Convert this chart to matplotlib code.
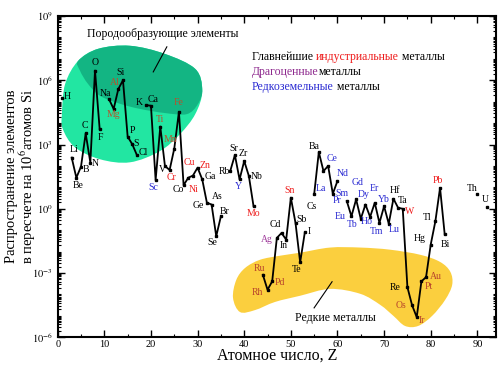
import numpy as np
import pandas as pd
import matplotlib
matplotlib.use("Agg")
import matplotlib.pyplot as plt
import matplotlib.transforms as mtransforms
from matplotlib.path import Path
from matplotlib.patches import PathPatch
from matplotlib.ticker import FixedLocator, LogLocator, MultipleLocator, NullFormatter

plt.rcParams['font.family'] = ['Liberation Serif', 'DejaVu Serif']
plt.rcParams['mathtext.fontset'] = 'stix'

# atomic number, symbol, log10(atoms per 10^6 Si)
z_num = [1, 3, 4, 5, 6, 7, 8, 9, 11, 12, 13, 14, 15, 16, 17, 19, 20, 21, 22, 23,
         24, 25, 26, 27, 28, 29, 30, 31, 32, 33, 34, 35, 37, 38, 39, 40, 41, 42,
         44, 45, 46, 47, 48, 49, 50, 51, 52, 53, 55, 56, 57, 58, 59, 60, 62, 63,
         64, 65, 66, 67, 68, 69, 70, 71, 72, 73, 74, 75, 76, 77, 78, 79, 80, 81,
         82, 83, 90, 92]
symbols = ['H', 'Li', 'Be', 'B', 'C', 'N', 'O', 'F', 'Na', 'Mg', 'Al', 'Si', 'P',
           'S', 'Cl', 'K', 'Ca', 'Sc', 'Ti', 'V', 'Cr', 'Mn', 'Fe', 'Co', 'Ni',
           'Cu', 'Zn', 'Ga', 'Ge', 'As', 'Se', 'Br', 'Rb', 'Sr', 'Y', 'Zr', 'Nb',
           'Mo', 'Ru', 'Rh', 'Pd', 'Ag', 'Cd', 'In', 'Sn', 'Sb', 'Te', 'I', 'Cs',
           'Ba', 'La', 'Ce', 'Pr', 'Nd', 'Sm', 'Eu', 'Gd', 'Tb', 'Dy', 'Ho', 'Er',
           'Tm', 'Yb', 'Lu', 'Hf', 'Ta', 'W', 'Re', 'Os', 'Ir', 'Pt', 'Au', 'Hg',
           'Tl', 'Pb', 'Bi', 'Th', 'U']
log_abund = [5.16, 2.39, 1.45, 1.97, 3.52, 2.16, 6.45, 3.72, 5.12, 4.66, 5.59, 6.0,
             3.37, 3.01, 2.50, 4.84, 4.81, 1.34, 3.84, 2.0, 1.81, 2.81, 4.53, 1.10,
             1.45, 1.55, 1.92, 1.37, 0.28, 0.20, -1.28, -0.35, 1.76, 2.51, 1.37,
             2.23, 1.53, 0.12, -3.08, -3.78, -3.39, -1.36, -1.13, -1.44, 0.52,
             -0.66, -2.5, -1.1, 0.67, 2.65, 1.76, 2.0, 0.70, 1.3, 0.36, -0.35, 0.44,
             -0.47, 0.2, -0.38, 0.28, -0.66, 0.12, -0.7, 0.47, 0.05, 0.0, -3.66,
             -4.5, -5.06, -3.39, -3.19, -1.67, -0.58, 0.98, -1.2, 0.67, 0.09]

industrial = ['Cr', 'Ni', 'Cu', 'Zn', 'Mo', 'Sn', 'W', 'Pb']
industrial_dim = ['Al', 'Mg', 'Ti', 'Mn', 'Fe']
precious = ['Ag']
precious_dim = ['Ru', 'Rh', 'Pd', 'Os', 'Ir', 'Pt', 'Au']
rare_earth = ['Sc', 'Y', 'La', 'Ce', 'Pr', 'Nd', 'Sm', 'Eu', 'Gd', 'Tb', 'Dy',
              'Ho', 'Er', 'Tm', 'Yb', 'Lu']

# label offsets in pixels (dx, dy up)
offsets = {
    'H': (5, 2), 'Li': (2, 8), 'Be': (2, -8), 'B': (5, -3), 'C': (-1, 8),
    'N': (5, -1), 'O': (0, 8), 'F': (1, -8), 'Na': (-4, 6), 'Al': (-3, 7),
    'Mg': (0, -6), 'Si': (-2, 8), 'P': (5, 6), 'S': (4, 1), 'Cl': (6, 3),
    'K': (-7, 3), 'Ca': (2, 6), 'Sc': (-2, -7), 'Ti': (0, 7), 'V': (-3, -4),
    'Cr': (2, -7), 'Mn': (-4, 9), 'Fe': (0, 9), 'Co': (-5, -4), 'Ni': (5, -12),
    'Cu': (-4, 13), 'Zn': (7, 2), 'Ga': (8, 3), 'Ge': (-9, -3), 'As': (6, 8),
    'Se': (-4, -6), 'Br': (4, 5), 'Rb': (-6, 0), 'Sr': (-1, 7), 'Y': (-1, -7),
    'Zr': (-1, 8), 'Nb': (8, 0), 'Mo': (0, -7), 'Ru': (-3, 6), 'Rh': (-10, -3),
    'Pd': (8, -1), 'Ag': (-10, -2), 'Cd': (-6, 8), 'In': (-2, -6), 'Sn': (-1, 7),
    'Sb': (6, 3), 'Te': (-4, -7), 'I': (4, 1), 'Cs': (-2, -12), 'Ba': (-5, 6),
    'La': (-3, -17), 'Ce': (4, 7), 'Pr': (4, -7), 'Nd': (5, 7), 'Sm': (-5, 8),
    'Eu': (-11, 0), 'Gd': (1, 17), 'Tb': (-9, -6), 'Dy': (-2, 10), 'Ho': (-3, -5),
    'Er': (0, 14), 'Tm': (-3, -9), 'Yb': (0, 7), 'Lu': (5, -6), 'Hf': (2, 8),
    'Ta': (5, 7), 'W': (7, -3), 'Re': (-12, 0), 'Os': (-11, 0), 'Ir': (5, -3),
    'Pt': (7, -5), 'Au': (10, 1), 'Hg': (-11, 6), 'Tl': (-8, 4), 'Pb': (-2, 7),
    'Bi': (1, -10), 'Th': (-5, 6), 'U': (-1, 7),
}

# outline of the rock-forming region (Z, log10 abundance)
rock_z = [0.9, 1.6, 4.4, 8.7, 15.5, 23.0, 29.5, 31.0, 29.5, 26.2, 21.9, 15.5, 9.1, 3.7, 1.1]
rock_l = [4.42, 5.83, 6.91, 7.47, 7.61, 7.23, 6.53, 5.50, 4.42, 3.48, 2.69, 2.17, 2.31, 2.87, 3.72]
cap_z = [4.4, 8.7, 15.5, 23.0, 29.5, 31.0, 30.1, 27.7, 23.0, 17.7, 13.4, 9.1, 6.5, 4.8]
cap_l = [6.91, 7.47, 7.61, 7.23, 6.53, 5.59, 4.90, 4.42, 4.47, 4.66, 4.90, 5.27, 5.83, 6.44]
rare_z = [37.6, 38.3, 40.2, 43.4, 47.7, 52.0, 58.4, 64.9, 71.3, 77.8, 82.0, 84.2, 84.6,
          83.1, 80.3, 77.3, 74.5, 72.0, 69.2, 64.9, 58.4, 52.0, 46.6, 42.3, 39.1]
rare_l = [-4.16, -3.32, -2.76, -2.38, -2.19, -2.05, -1.81, -1.81, -1.91, -2.15, -2.48,
          -2.94, -3.55, -4.25, -5.00, -5.47, -5.47, -5.00, -4.49, -3.97, -3.74, -4.06,
          -4.35, -4.73, -4.82]


def blob_path(xs, ys):
    p = np.column_stack([xs, ys])
    n = len(p)
    verts = [p[0]]
    codes = [Path.MOVETO]
    for i in range(n):
        p0, p1, p2, p3 = p[i - 1], p[i], p[(i + 1) % n], p[(i + 2) % n]
        verts += [p1 + (p2 - p0) / 6, p2 - (p3 - p1) / 6, p2]
        codes += [Path.CURVE4] * 3
    return Path(verts, codes)


df = pd.DataFrame({'sym': symbols, 'val': 10.0 ** np.array(log_abund)}, index=z_num)
full = df.reindex(range(1, 93))

fig = plt.figure(figsize=(5, 3.67), dpi=100)
ax = fig.add_axes([0.1154, 0.0809, 0.8766, 0.8755])
ax.set_xlim(0, 94)
ax.set_yscale('log')
ax.set_ylim(1e-6, 1e9)

blob_tr = mtransforms.Affine2D().scale(1 / 94, 1 / 15).translate(0, 0.4) + ax.transAxes
ax.add_patch(PathPatch(blob_path(rock_z, rock_l), facecolor='#22e6a2', edgecolor='none',
                       transform=blob_tr, zorder=0))
ax.add_patch(PathPatch(blob_path(cap_z, cap_l), facecolor='#13b583', edgecolor='none',
                       transform=blob_tr, zorder=0.5))
ax.add_patch(PathPatch(blob_path(rare_z, rare_l), facecolor='#fbcf3e', edgecolor='none',
                       transform=blob_tr, zorder=0))

ax.plot(full.index, full['val'], color='black', lw=1.3, marker='s', ms=1.6, zorder=2)

for z, s, v in zip(z_num, symbols, df['val']):
    if s in industrial:
        c = '#ee1c1c'
    elif s in industrial_dim:
        c = '#b4522e'
    elif s in precious:
        c = '#a03c9c'
    elif s in precious_dim:
        c = '#b8442c'
    elif s in rare_earth:
        c = '#2a2ad2'
    else:
        c = 'black'
    ax.annotate(s, (z, v), xytext=offsets[s], textcoords='offset pixels',
                ha='center', va='center', fontsize=7, color=c, zorder=3)

ax.xaxis.set_major_locator(MultipleLocator(10))
ax.xaxis.set_minor_locator(MultipleLocator(5))
ax.yaxis.set_major_locator(FixedLocator([1e-6, 1e-3, 1e0, 1e3, 1e6, 1e9]))
ax.set_yticklabels(['$10^{-6}$', '$10^{-3}$', '$10^{0}$', '$10^{3}$', '$10^{6}$', '$10^{9}$'])
ax.yaxis.set_minor_locator(LogLocator(base=10, subs=np.arange(1, 10), numticks=100))
ax.yaxis.set_minor_formatter(NullFormatter())
ax.tick_params(which='both', direction='in', top=True, right=True, labelsize=7.5)
ax.tick_params(which='major', length=5, width=1)
ax.tick_params(which='minor', length=2.5, width=0.8)
ax.tick_params(axis='x', pad=2)
for sp in ax.spines.values():
    sp.set_linewidth(1.5)

fig.text(0.554, 0.008, 'Атомное число, Z', ha='center', va='bottom', fontsize=11.5)
fig.text(0.024, 0.52, 'Распространение элементов', rotation=90, ha='center',
         va='center', fontsize=10.5)
fig.text(0.056, 0.52, 'в пересчете на 10$^6$атомов Si', rotation=90, ha='center',
         va='center', fontsize=10.5)

ax.text(0.240, 0.945, 'Породообразующие элементы', transform=ax.transAxes,
        ha='center', va='center', fontsize=8.5)
ax.plot([0.249, 0.218], [0.904, 0.826], transform=ax.transAxes, color='black', lw=0.8)
ax.text(0.633, 0.060, 'Редкие металлы', transform=ax.transAxes,
        ha='center', va='center', fontsize=8.5)
ax.plot([0.585, 0.626], [0.0916, 0.173], transform=ax.transAxes, color='black', lw=0.8)


def rainbow(x, y, parts):
    t = ax.text(x, y, parts[0][0], color=parts[0][1], transform=ax.transAxes,
                va='bottom', fontsize=8.5)
    for s, c in parts[1:]:
        t = ax.annotate(s, xy=(1, 0), xycoords=t, va='bottom', color=c, fontsize=8.5)


rainbow(0.443, 0.855, [('Главнейшие ', 'black'), ('индустриальные', '#ee1c1c'),
                       (' металлы', 'black')])
rainbow(0.443, 0.808, [('Драгоценные', '#8e2a8e'), ('металлы', 'black')])
rainbow(0.443, 0.761, [('Редкоземельные', '#2a2ad2'), (' металлы', 'black')])

fig.savefig('out.png', dpi=100)
